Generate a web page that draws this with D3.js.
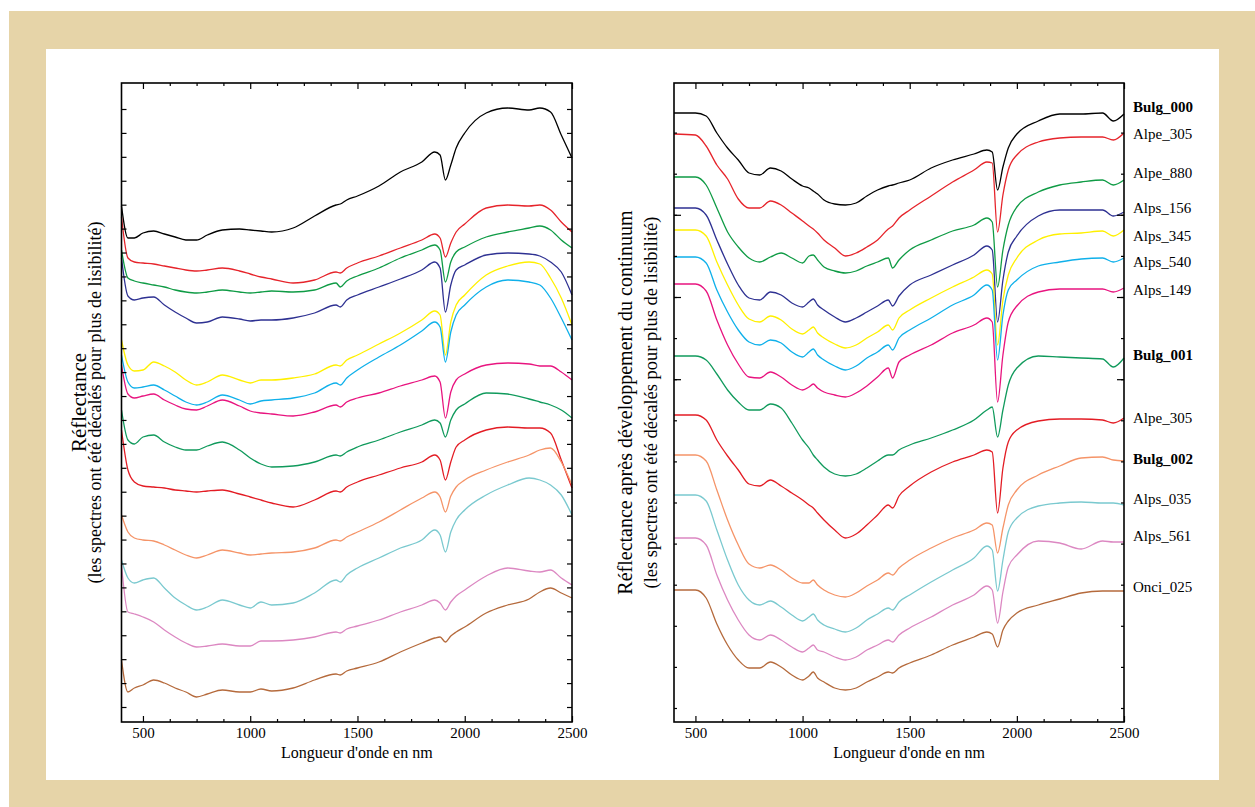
<!DOCTYPE html>
<html lang="fr">
<head>
<meta charset="UTF-8">
<title>Spectres de réflectance</title>
<script src="https://d3js.org/d3.v7.min.js"></script>
<style>
  body { margin: 0; background: #fff; }
  svg text { font-family: "Liberation Serif", "Times New Roman", serif; fill: #000; }
</style>
</head>
<body>
<div id="chart"></div>
<script>
// ---- data (reflectance, offset units x1000) ----
const wlLeft = [400,430,460,500,550,600,650,700,750,800,870,950,1000,1050,1100,1200,1300,1400,1420,1450,1500,1600,1700,1800,1860,1885,1910,1935,1960,2000,2100,2200,2300,2350,2400,2450,2500];
const wlRight = [400,500,550,600,650,700,750,800,850,900,950,1000,1030,1050,1070,1100,1150,1200,1250,1300,1350,1400,1420,1450,1500,1600,1700,1800,1860,1885,1910,1935,1960,2000,2100,2200,2300,2400,2450,2500];

const names = ["Bulg_000","Alpe_305","Alpe_880","Alps_156","Alps_345","Alps_540","Alps_149","Bulg_001","Alpe_305","Bulg_002","Alps_035","Alps_561","Onci_025"];
const colors = ["#000000","#e6242b","#0f9b45","#2e3192","#fff000","#0fb0ea","#e8147f","#109a5c","#e31c24","#f59468","#7ac9cf","#dc88c2","#b56a3c"];
// level of each name on the right-hand side
const labelLevels = [615,588,549,514,486,460,432,367,304,263,223,186,135];

const left000 = [516,484,484,489,491,488,485,482,482,487,492,493,492,491,490,494,506,517,518,522,526,536,550,560,570,567,542,557,574,589,609,614,612,614,610,587,564];
const left305 = [505,464,460,459,458,456,454,452,451,452,454,451,448,445,443,439,442,450,449,454,459,466,474,482,488,484,465,479,490,498,514,517,516,517,512,500,490];
const left880 = [472,444,441,439,437,435,432,430,429,430,432,430,429,430,431,430,432,439,435,441,446,454,464,472,477,472,440,460,470,475,485,490,494,496,492,482,474];
const left156 = [464,426,422,424,425,417,410,404,399,400,405,403,401,402,402,404,409,417,415,422,427,435,443,452,460,454,410,437,452,457,467,469,468,466,460,450,427];
const left345 = [382,357,351,352,360,356,350,342,337,340,347,342,339,342,342,344,348,357,356,362,367,378,389,402,411,407,367,400,417,427,447,456,460,458,444,424,397];
const left540 = [367,340,334,335,337,332,326,320,317,320,327,322,318,321,322,324,329,339,337,344,352,365,377,391,400,395,360,390,407,417,435,442,440,437,424,404,382];
const left149 = [357,328,324,326,328,322,317,313,312,316,322,316,311,309,308,306,310,317,315,320,324,329,336,342,346,340,304,330,342,348,357,359,358,356,356,350,342];
const left001 = [312,282,278,285,287,280,275,272,272,276,280,272,264,258,255,256,260,267,266,270,275,282,290,297,302,299,285,302,312,318,329,328,323,320,317,312,304];
const left305b = [292,252,240,236,235,234,232,231,230,231,232,228,225,222,219,215,222,231,230,235,240,247,254,260,267,262,242,260,275,282,292,295,294,294,289,262,234];
const left002 = [207,190,184,182,181,177,172,167,164,167,172,169,167,168,169,170,174,182,181,185,190,200,212,224,230,225,210,226,235,242,252,260,267,272,274,260,237];
const left035 = [162,144,139,142,144,134,124,117,112,115,122,117,114,120,117,119,129,142,140,147,154,164,174,182,192,187,170,190,202,212,227,237,244,242,237,227,207];
const left561 = [157,110,108,105,100,92,85,79,75,76,78,76,76,81,81,82,85,90,89,93,96,102,110,117,122,119,112,120,126,132,146,154,151,150,152,144,137];
const left025 = [62,30,34,37,42,39,34,30,25,28,32,30,30,33,31,34,42,48,47,51,54,60,70,79,84,85,80,86,90,95,109,117,123,130,134,129,124];

const right000 = [609,609,606,589,574,562,549,547,554,551,543,536,534,531,528,522,518,517,519,526,532,536,537,539,542,554,562,568,572,570,532,555,574,588,601,608,608,609,601,608];
const right305 = [588,587,576,557,543,523,514,514,521,517,509,501,496,493,489,482,474,466,469,475,482,493,496,504,512,526,540,552,560,559,490,527,552,567,580,584,585,585,582,589];
const right880 = [545,545,537,514,490,475,464,460,465,469,464,459,466,467,462,455,451,449,451,456,460,464,454,462,472,482,491,497,504,500,435,472,497,515,530,537,540,542,537,542];
const right156 = [514,514,507,482,458,437,424,422,430,427,419,415,420,423,417,412,405,400,404,410,416,422,416,426,437,447,457,467,476,472,400,442,470,486,506,512,512,512,506,510];
const right345 = [492,492,486,460,437,417,403,400,406,402,393,388,392,395,389,384,378,374,377,384,390,397,392,404,412,424,435,445,452,448,377,422,447,464,482,488,489,491,486,492];
const right540 = [465,465,459,432,410,392,380,377,382,379,370,365,370,373,367,362,356,352,356,364,370,377,372,384,392,404,417,427,437,432,362,407,432,442,456,460,463,464,460,464];
const right149 = [438,438,431,402,377,358,345,344,350,345,337,332,335,338,334,330,327,325,329,336,345,354,344,360,367,377,389,397,404,400,320,367,400,416,430,433,433,433,430,434];
const right001 = [366,366,362,348,332,320,312,312,318,314,299,282,274,267,262,255,248,246,248,254,261,267,267,272,277,284,292,302,312,315,285,312,337,354,366,365,364,363,355,364];
const right305b = [307,307,302,282,266,252,238,236,242,236,229,222,217,214,209,202,192,184,188,197,207,217,214,226,236,250,260,267,272,270,209,254,280,292,301,303,303,302,299,304];
const right002 = [267,267,261,232,202,177,158,154,157,152,144,139,139,142,137,132,127,125,129,136,142,149,147,154,162,174,184,192,199,197,169,194,217,232,247,256,264,265,262,261];
const right035 = [227,227,221,192,162,137,122,117,121,115,107,101,105,108,102,97,93,90,94,102,108,114,112,120,127,140,152,164,176,172,131,162,190,204,216,219,220,219,219,217];
const right561 = [184,184,177,147,122,102,87,82,87,82,75,70,74,77,72,70,65,62,65,72,77,82,80,87,94,105,117,127,136,132,99,130,155,167,181,179,173,181,180,180];
const right025 = [132,132,124,98,77,62,54,54,60,55,47,42,46,50,44,40,34,32,34,40,45,50,49,54,59,67,77,85,90,88,75,92,101,109,117,123,129,131,131,131];

const leftSeries = [left000,left305,left880,left156,left345,left540,left149,left001,left305b,left002,left035,left561,left025];
const rightSeries = [right000,right305,right880,right156,right345,right540,right149,right001,right305b,right002,right035,right561,right025];

const xMajor = [500,1000,1500,2000,2500];
const xMinor = [625,750,875,1125,1250,1375,1625,1750,1875,2125,2250,2375];
const yTicksLeft = d3.range(15, 630, 23.92);
const yTicksRight = d3.range(14, 600, 41.1);
const yLongRight = [342.8, 425, 507.2];

const xTitle = "Longueur d'onde en nm";

// ---- layout ----
const W = 1255, H = 807;
const plotTop = 83, plotBottom = 722;

const svg = d3.select("#chart").append("svg")
    .attr("width", W).attr("height", H);

// beige frame + white card
svg.append("rect").attr("x", 9).attr("y", 11).attr("width", W - 9).attr("height", H - 11).attr("fill", "#e6d4a8");
svg.append("rect").attr("x", 46).attr("y", 49).attr("width", 1173).attr("height", 731).attr("fill", "#fff");

const y = d3.scaleLinear().domain([0, 639]).range([plotBottom, plotTop]);

function drawPlot(x0, x1, wl, series, yTicks, longTicks) {
    const x = d3.scaleLinear().domain([400, 2500]).range([x0, x1]);
    const g = svg.append("g");

    const line = d3.line()
        .x((d, i) => x(wl[i]))
        .y(d => y(d))
        .curve(d3.curveMonotoneX);

    g.selectAll("path.spec")
        .data(series)
        .join("path")
        .attr("class", "spec")
        .attr("d", line)
        .attr("fill", "none")
        .attr("stroke", (d, i) => colors[i])
        .attr("stroke-width", 1.3)
        .attr("stroke-linejoin", "round");

    // x axis, ticks pointing inward
    const bx = g.append("g").attr("transform", `translate(0,${plotBottom})`)
        .call(d3.axisBottom(x).tickValues(xMajor).tickSize(-6).tickPadding(5).tickFormat(d3.format("d")));
    bx.selectAll("text").attr("font-size", "15px");
    g.append("g").attr("transform", `translate(0,${plotBottom})`)
        .call(d3.axisBottom(x).tickValues(xMinor).tickSize(-3).tickFormat(""));
    g.append("g").attr("transform", `translate(0,${plotTop})`)
        .call(d3.axisTop(x).tickValues(xMajor).tickSize(-6).tickFormat(""));
    g.append("g").attr("transform", `translate(0,${plotTop})`)
        .call(d3.axisTop(x).tickValues(xMinor).tickSize(-3).tickFormat(""));

    // y ticks both sides
    const short = longTicks ? 3 : 5;
    g.append("g").attr("transform", `translate(${x0},0)`)
        .call(d3.axisLeft(y).tickValues(yTicks).tickSize(-short).tickFormat(""));
    g.append("g").attr("transform", `translate(${x1},0)`)
        .call(d3.axisRight(y).tickValues(yTicks).tickSize(-short).tickFormat(""));
    if (longTicks) {
        g.append("g").attr("transform", `translate(${x0},0)`)
            .call(d3.axisLeft(y).tickValues(longTicks).tickSize(-7).tickFormat(""));
        g.append("g").attr("transform", `translate(${x1},0)`)
            .call(d3.axisRight(y).tickValues(longTicks).tickSize(-7).tickFormat(""));
    }
    g.selectAll(".domain").remove();
    g.selectAll(".tick line").attr("stroke", "#000").attr("stroke-width", 1.2);

    g.append("rect")
        .attr("x", x0).attr("y", plotTop)
        .attr("width", x1 - x0).attr("height", plotBottom - plotTop)
        .attr("fill", "none").attr("stroke", "#000").attr("stroke-width", 1.6);

    g.append("text")
        .attr("x", (x0 + x1) / 2 + 10).attr("y", 758)
        .attr("text-anchor", "middle").attr("font-size", "16px")
        .text(xTitle);
    return x;
}

drawPlot(121.5, 572, wlLeft, leftSeries, yTicksLeft, null);
drawPlot(674, 1124, wlRight, rightSeries, yTicksRight, yLongRight);

// y titles
function yTitle(xPos, size, txt) {
    svg.append("text")
        .attr("transform", `translate(${xPos},${(plotTop + plotBottom) / 2}) rotate(-90)`)
        .attr("text-anchor", "middle")
        .attr("font-size", size)
        .text(txt);
}
yTitle(86, "21px", "Réflectance");
yTitle(101, "18px", "(les spectres ont été décalés pour plus de lisibilité)");
yTitle(632, "20px", "Réflectance après développement du continuum");
yTitle(657, "18.5px", "(les spectres ont été décalés pour plus de lisibilité)");

// spectrum names on the right
svg.append("g").selectAll("text")
    .data(names)
    .join("text")
    .attr("x", 1133)
    .attr("y", (d, i) => y(labelLevels[i]))
    .attr("dy", "0.33em")
    .attr("font-size", "15px")
    .attr("font-weight", d => d.startsWith("Bulg") ? "bold" : "normal")
    .text(d => d);
</script>
</body>
</html>
